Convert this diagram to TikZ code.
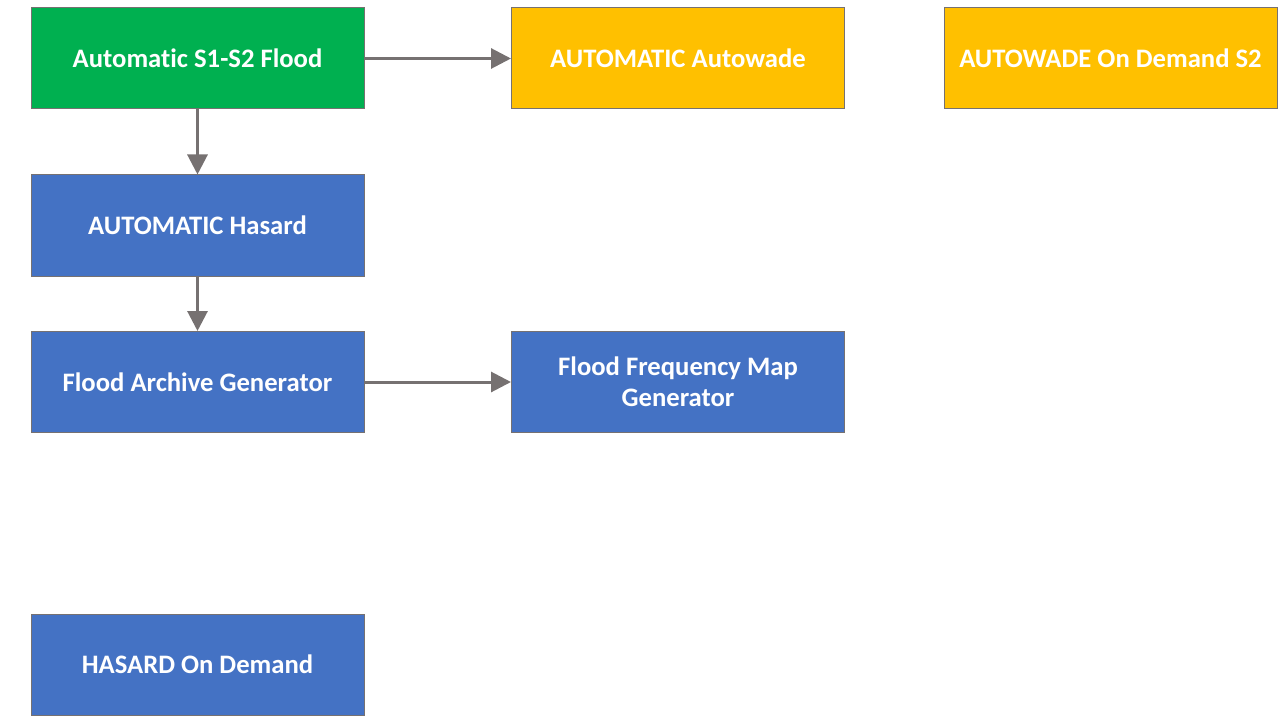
\documentclass[tikz,border=0pt]{standalone}
\usepackage{fontspec}
\setmainfont{Carlito}[Ligatures=CommonOff]
\usetikzlibrary{arrows.meta}
\definecolor{cgreen}{HTML}{00B050}
\definecolor{cyellow}{HTML}{FFC000}
\definecolor{cblue}{HTML}{4472C4}
\definecolor{cgray}{HTML}{767171}
\begin{document}
\begin{tikzpicture}[x=0.75pt,y=-0.75pt,
  box/.style={draw=cgray,line width=0.75pt,minimum width=333*0.75pt,minimum height=101*0.75pt,
    inner sep=0pt,text=white,font=\fontsize{20}{23.4}\selectfont\bfseries,align=center,anchor=center},
  conn/.style={draw=cgray,line width=2.25pt,-{Triangle[length=15pt,width=15pt]}}]
\useasboundingbox (0,0) rectangle (1280,720);
\node[box,fill=cgreen] (flood) at (197.5,58.5) {Automatic S1-S2 Flood};
\node[box,fill=cyellow] (autowade) at (678,58.5) {AUTOMATIC Autowade};
\node[box,fill=cyellow] (autowadeod) at (1110.5,58.5) {AUTOWADE On Demand S2};
\node[box,fill=cblue] (hasard) at (197.5,225.5) {AUTOMATIC Hasard};
\node[box,fill=cblue] (archive) at (197.5,382) {Flood Archive Generator};
\node[box,fill=cblue] (freq) at (678,382) {Flood Frequency Map\\Generator};
\node[box,fill=cblue] (hasardod) at (197.5,664.5) {HASARD On Demand};
\draw[conn] (flood.east) -- (autowade.west);
\draw[conn] (flood.south) -- (hasard.north);
\draw[conn] (hasard.south) -- (archive.north);
\draw[conn] (archive.east) -- (freq.west);
\end{tikzpicture}
\end{document}
